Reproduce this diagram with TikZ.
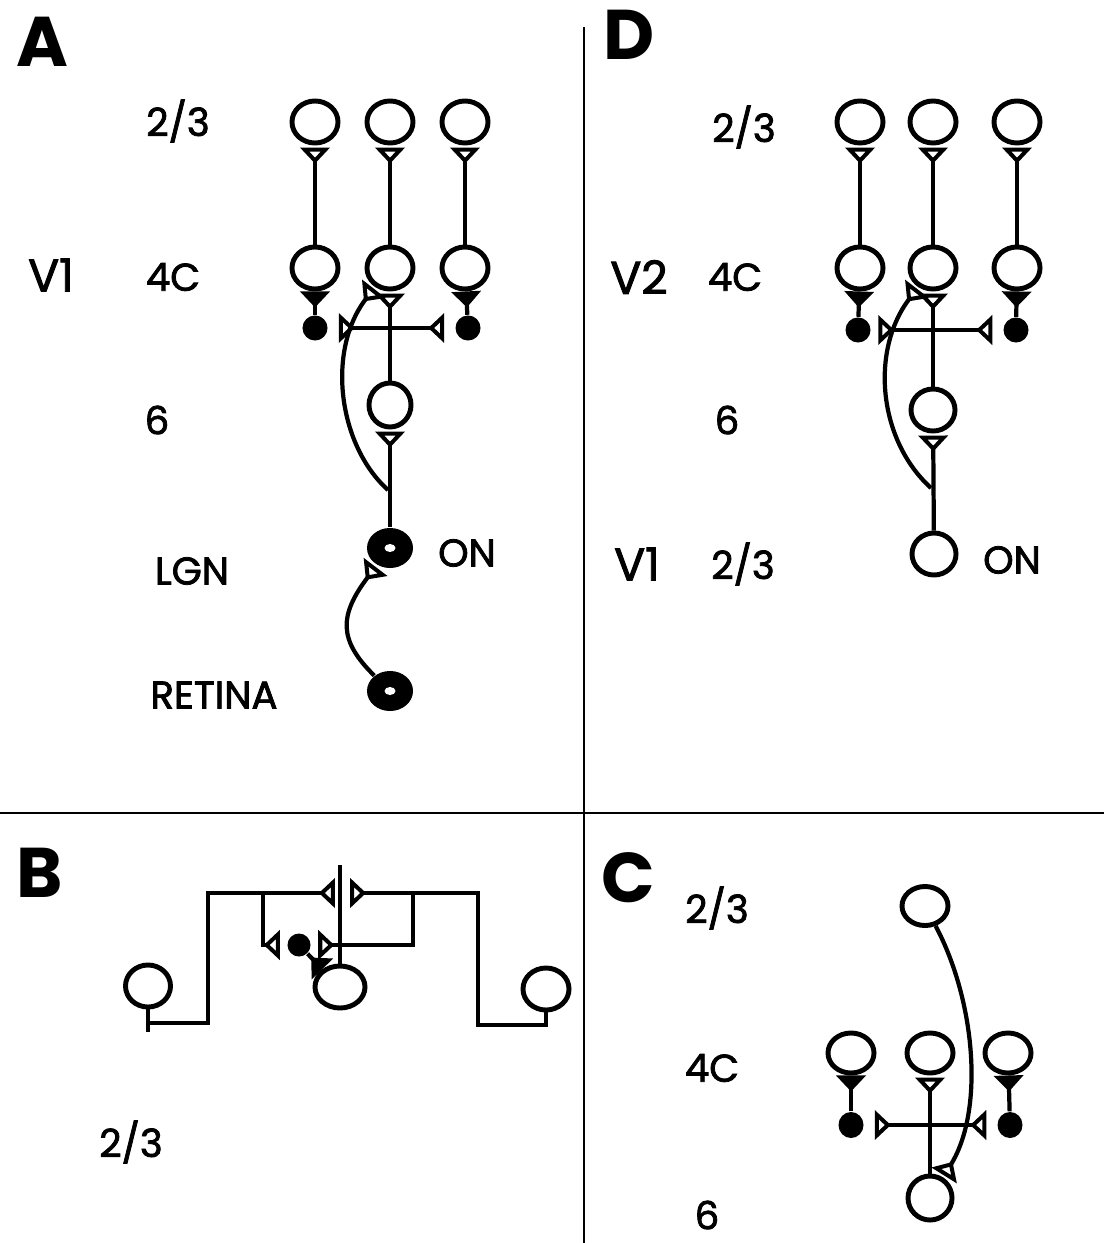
\documentclass[tikz,border=0pt]{standalone}
\usepackage{fontspec}
\setmainfont{Poppins}
\newfontfamily\labelfont{Poppins}[FakeBold=2]
\usetikzlibrary{shapes.geometric, arrows.meta, positioning, calc}
\tikzset{
    % Cell bodies
    cell/.style={
        ellipse,
        draw=black,
        fill=white,
        line width=1.4pt,
        minimum width=0.46cm,
        minimum height=0.42cm,
        inner sep=0pt
    },
    inh cell/.style={
        ellipse,
        fill=black,
        minimum width=0.25cm,
        minimum height=0.25cm,
        inner sep=0pt
    },
    on cell/.style={
        ellipse,
        fill=black,
        minimum width=0.46cm,
        minimum height=0.40cm,
        inner sep=0pt,
        path picture={\fill[white] (path picture bounding box.center) ellipse (0.055cm and 0.04cm);}
    },
    % Connections
    axon/.style={
        line width=1.2pt,
        black
    },
    exc/.style={
        axon,
        -{Triangle[reversed, open, width=0.29cm, length=0.16cm, line width=1.4pt]},
        shorten >=0.6pt
    },
    inh/.style={
        axon,
        -{Triangle[reversed, width=0.29cm, length=0.16cm]}
    },
    divider/.style={
        line width=0.7pt,
        black
    },
    % Labels
    layer/.style={
        font=\labelfont\fontsize{11}{13}\selectfont,
        inner sep=0pt
    },
    area/.style={
        font=\labelfont\fontsize{13}{15}\selectfont,
        inner sep=0pt
    },
    panel/.style={
        font=\bfseries\fontsize{20}{24}\selectfont,
        inner sep=0pt
    }
}

\begin{document}
\begin{tikzpicture}[x=0.01cm, y=-0.01cm]
    \useasboundingbox (0,0) rectangle (1104,1243);

    % Panel dividers
    \draw[divider] (584,27) -- (584,1243);
    \draw[divider] (0,813) -- (1104,813);

    % ---------- Panel A ----------
    \node[panel] (labA) at (42,42) {A};
    \node[layer] (labA23) at (178,121) {2/3};
    \node[area] (labAV1) at (51,275) {V1};
    \node[layer] (labA4C) at (173,277) {4C};
    \node[layer] (labA6) at (157,420) {6};
    \node[layer] (labAlgn) at (192,571) {LGN};
    \node[layer] (labAon) at (467,553) {ON};
    \node[layer] (labAret) at (214,695) {RETINA};

    \node[cell] (a23l) at (315,122) {};
    \node[cell] (a23m) at (390,122) {};
    \node[cell] (a23r) at (465,122) {};
    \node[cell] (a4l) at (315,268) {};
    \node[cell] (a4m) at (390,268) {};
    \node[cell] (a4r) at (465,268) {};
    \node[inh cell] (adotl) at (315,328) {};
    \node[inh cell] (adotr) at (468,328) {};
    \node[cell, minimum height=0.44cm, minimum width=0.42cm] (a6) at (390,405) {};
    \node[on cell] (algn) at (390,548) {};
    \node[on cell] (aret) at (390,691) {};
    \coordinate (ahub) at (390,328);
    \coordinate (abr) at (388,490);

    \foreach \c in {l,m,r}
        \draw[exc] (a4\c) -- (a23\c);
    \draw[inh] (adotl) -- (a4l);
    \draw[inh] (adotr) -- (a4r);
    \draw[exc] (a6) -- (a4m);
    \draw[exc, shorten >=3pt] (ahub) -- (adotl);
    \draw[exc, shorten >=3pt] (ahub) -- (adotr);
    \draw[exc] (algn) -- (a6);
    \draw[exc] (abr) .. controls (338,445) and (326,350) .. (a4m);
    \draw[exc] (aret) .. controls (338,640) and (339,615) .. (algn);

    % ---------- Panel D ----------
    \node[panel] (labD) at (629,35) {D};
    \node[layer] (labD23) at (744,127) {2/3};
    \node[area] (labDV2) at (639,277) {V2};
    \node[layer] (labD4C) at (735,277) {4C};
    \node[layer] (labD6) at (727,420) {6};
    \node[area] (labDV1) at (637,564) {V1};
    \node[layer] (labD23b) at (743,564) {2/3};
    \node[layer] (labDon) at (1012,560) {ON};

    \node[cell] (d23l) at (860,122) {};
    \node[cell] (d23m) at (933,122) {};
    \node[cell] (d23r) at (1017,122) {};
    \node[cell] (d4l) at (860,268) {};
    \node[cell] (d4m) at (933,268) {};
    \node[cell] (d4r) at (1017,268) {};
    \node[inh cell] (ddotl) at (858,330) {};
    \node[inh cell] (ddotr) at (1016,330) {};
    \node[cell, minimum height=0.42cm, minimum width=0.44cm] (d6) at (933,410) {};
    \node[cell, minimum width=0.44cm] (don) at (934,554) {};
    \coordinate (dhub) at (933,330);
    \coordinate (dbr) at (931,488);

    \foreach \c in {l,m,r}
        \draw[exc] (d4\c) -- (d23\c);
    \draw[inh] (ddotl) -- (d4l);
    \draw[inh] (ddotr) -- (d4r);
    \draw[exc] (d6) -- (d4m);
    \draw[exc, shorten >=2pt] (dhub) -- (ddotl);
    \draw[exc, shorten >=3pt] (dhub) -- (ddotr);
    \draw[exc] (don) -- (d6);
    \draw[exc] (dbr) .. controls (878,440) and (870,350) .. (d4m);

    % ---------- Panel B ----------
    \node[panel] (labB) at (40,873) {B};
    \node[layer] (labB23) at (131,1142) {2/3};

    \node[cell, minimum width=0.45cm] (bl) at (148,986) {};
    \node[cell, minimum width=0.5cm] (bc) at (340,987) {};
    \node[cell, minimum width=0.46cm] (br) at (546,989) {};
    \node[inh cell, minimum width=0.23cm, minimum height=0.23cm] (bdot) at (299,945) {};
    \coordinate (blend) at (148,1032);
    \coordinate (blj) at (148,1023);
    \coordinate (blc) at (208,1023);
    \coordinate (bdl) at (337,893);
    \coordinate (bjl) at (263,893);
    \coordinate (brc) at (478,1025);
    \coordinate (bdr) at (348,893);
    \coordinate (bjr) at (413,893);
    \coordinate (btip) at (340,865);

    \draw[axon] (bc) -- (btip);
    \draw[axon] (bl) -- (blend);
    \draw[exc] (blj) -- (blc) |- (bdl);
    \draw[exc] (br) |- (brc) |- (bdr);
    \draw[exc, shorten >=2pt] (bjl) |- (bdot);
    \draw[exc, shorten >=2pt] (bjr) |- (bdot);
    \draw[inh] (bdot) -- (bc);

    % ---------- Panel C ----------
    \node[panel] (labC) at (628,878) {C};
    \node[layer] (labC23) at (717,908) {2/3};
    \node[layer] (labC4C) at (712,1068) {4C};
    \node[layer] (labC6) at (707,1215) {6};

    \node[cell, minimum height=0.39cm] (c23) at (925,906) {};
    \node[cell, minimum height=0.4cm] (c4l) at (851,1053) {};
    \node[cell, minimum height=0.4cm] (c4m) at (930,1053) {};
    \node[cell, minimum height=0.4cm] (c4r) at (1008,1053) {};
    \node[inh cell, minimum height=0.26cm] (cdotl) at (851,1125) {};
    \node[inh cell, minimum height=0.26cm] (cdotr) at (1010,1125) {};
    \node[cell, minimum width=0.44cm, minimum height=0.44cm] (c6) at (930,1198) {};
    \coordinate (chub) at (930,1125);

    \draw[inh] (cdotl) -- (c4l);
    \draw[inh] (cdotr) -- (c4r);
    \draw[exc] (c6) -- (c4m);
    \draw[exc, shorten >=3pt] (chub) -- (cdotl);
    \draw[exc, shorten >=3pt] (chub) -- (cdotr);
    \draw[exc] (c23) .. controls (975,1000) and (985,1110) .. (c6);
\end{tikzpicture}
\end{document}
